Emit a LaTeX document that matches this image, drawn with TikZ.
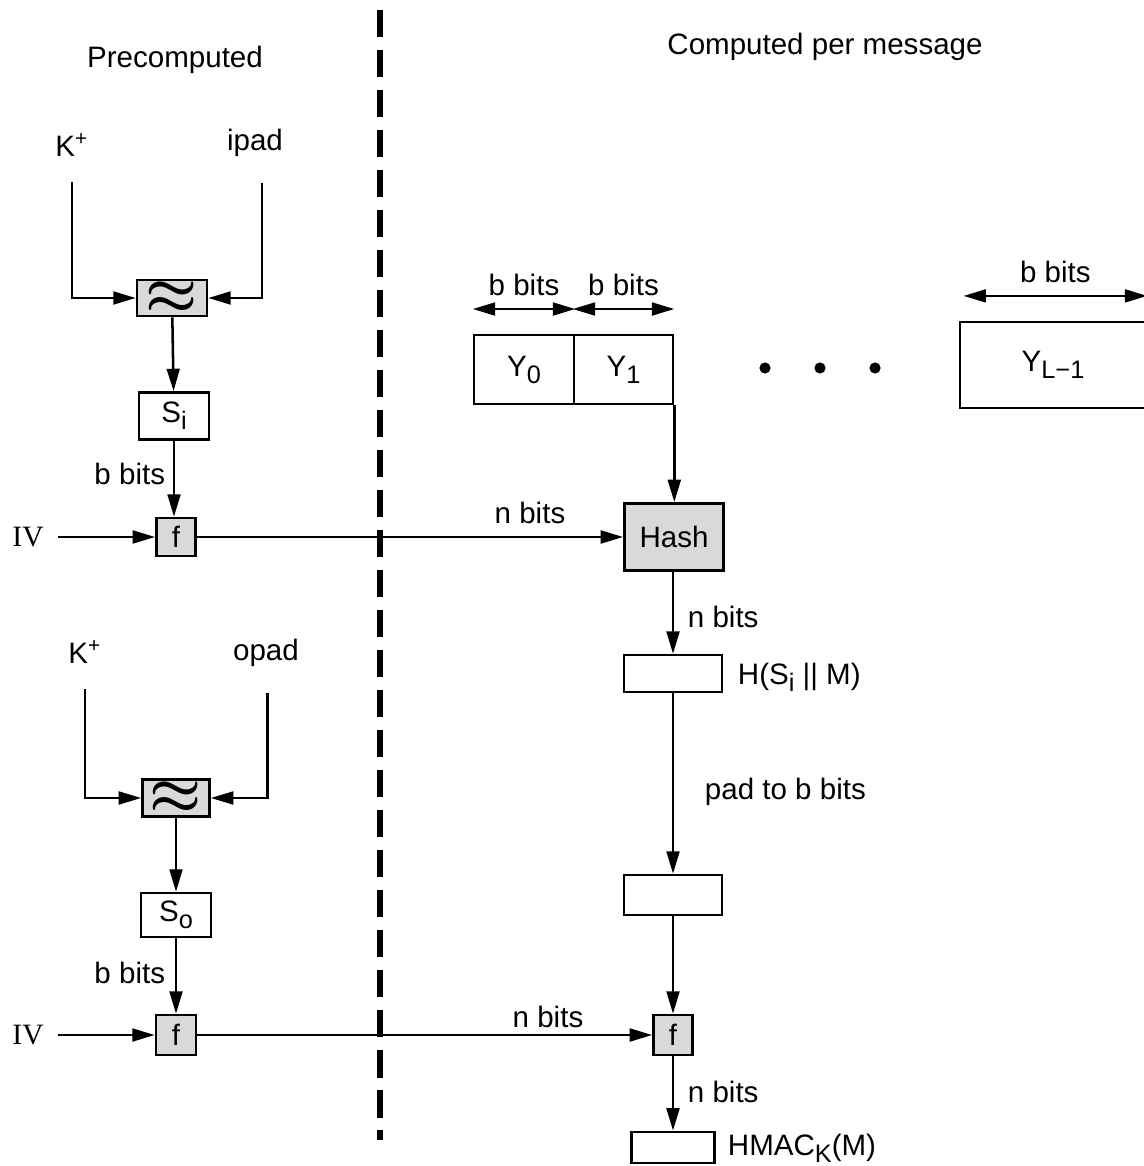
\documentclass[tikz,border=0pt]{standalone}
\usepackage{fontspec}
\setmainfont{Liberation Sans}
\newfontfamily\ivfont{Liberation Serif}
\usetikzlibrary{arrows.meta,positioning}

\newcommand{\xorsign}{{\fontsize{22}{22}\selectfont$\boldsymbol{\approx}$}}
\newcommand{\lowsub}[1]{\raisebox{-0.45ex}{\fontsize{9}{9}\selectfont #1}}
\usepackage{amsmath}

\begin{document}
\begin{tikzpicture}[
  x=0.0125cm, y=-0.0125cm,
  font=\fontsize{10.5}{12}\selectfont,
  >={Triangle[length=2.8mm,width=1.6mm]},
  box/.style={draw, line width=0.9pt, inner sep=0pt, fill=#1},
  box/.default=white,
  arr/.style={->, line width=0.9pt},
  darr/.style={<->, line width=0.9pt},
  divider/.style={line width=1.8pt, dash pattern=on 3.4mm off 1.6mm},
  dot/.style={circle, fill, inner sep=0pt, minimum size=0.14cm},
]
\definecolor{boxgray}{HTML}{D9D9D9}
\path[use as bounding box, fill=white] (0,0) rectangle (1143,1166);

\node (pre) at (175,60) {Precomputed};
\node (cpm) at (825,47) {Computed per message};
\draw[divider] (380,10) -- (380,1140);

% inner key
\node (kp1) at (72,145) {K\textsuperscript{+}};
\node (ipad) at (255,143) {ipad};
\node[box=boxgray, minimum width=0.875cm, minimum height=0.45cm] (xor1) at (172,298) {\xorsign};
\node[box, minimum width=0.875cm, minimum height=0.59cm] (si) at (174,416) {S\lowsub{i}};
\node[box=boxgray, minimum width=0.49cm, minimum height=0.475cm] (fa) at (176,537) {f};
\node (iva) at (28,537) {\ivfont IV};
\node[anchor=east] (ba) at (175,474) {b bits};

\draw[arr] ([yshift=-0.2cm]kp1.south) |- (xor1.west);
\draw[arr] ([xshift=0.09cm,yshift=-0.2cm]ipad.south) |- (xor1.east);
\draw[arr] (xor1) -- (si);
\draw[arr] (si.south) -- (si.south |- fa.north);
\draw[arr, shorten <=0.05cm] (iva) -- (fa);

% message blocks
\node[box, minimum width=1.25cm, minimum height=0.86cm] (y0) at (524,369.5) {Y\lowsub{0}};
\node[box, minimum width=1.2375cm, minimum height=0.86cm] (y1) at (623.5,369.5) {Y\lowsub{1}};
\node[dot] (d1) at (765,368) {};
\node[dot] (d2) at (820,368) {};
\node[dot] (d3) at (875,368) {};
\node[box, minimum width=2.325cm, minimum height=1.075cm] (yl) at (1053,365) {Y\lowsub{L−1}};

\draw[darr] ([yshift=0.31cm]y0.north west) -- ([yshift=0.31cm]y0.north east) node[midway, above=1pt] {b bits};
\draw[darr] ([yshift=0.31cm]y1.north west) -- ([yshift=0.31cm]y1.north east) node[midway, above=1pt] {b bits};
\draw[darr] ([xshift=0.06cm,yshift=0.31cm]yl.north west) -- ([yshift=0.31cm]yl.north east) node[midway, above=1pt] {b bits};

% inner hash
\node[box=boxgray, minimum width=1.24cm, minimum height=0.84cm] (hash) at (674,537) {Hash};
\node[box, minimum width=1.225cm, minimum height=0.46cm] (hbox) at (673,673.5) {};
\node[box, minimum width=1.225cm, minimum height=0.5cm] (pbox) at (673,895) {};

\draw[arr] (y1.south east) -- (y1.south east |- hash.north);
\draw[arr] (fa) -- (hash);
\node (na) at (530,513) {n bits};
\draw[arr] (hash.south -| hbox) -- (hbox);
\node[anchor=west] (nb) at (678,617) {n bits};
\node[anchor=west] (hlab) at (728,677) {H(S\lowsub{i} || M)};
\draw[arr] (hbox) -- (pbox);
\node[anchor=west] (padlab) at (695,792) {pad to b bits};

% outer key
\node (kp2) at (85,652) {K\textsuperscript{+}};
\node (opad) at (266,653) {opad};
\node[box=boxgray, minimum width=0.84cm, minimum height=0.46cm] (xor2) at (176,798) {\xorsign};
\node[box, minimum width=0.875cm, minimum height=0.55cm] (so) at (176,915) {S\lowsub{o}};
\node[box=boxgray, minimum width=0.5cm, minimum height=0.5cm] (fc) at (176,1035) {f};
\node (ivb) at (28,1035) {\ivfont IV};
\node[anchor=east] (bb) at (175,973) {b bits};

\draw[arr] ([yshift=-0.2cm]kp2.south) |- (xor2.west);
\draw[arr] ([xshift=0.02cm,yshift=-0.2cm]opad.south) |- (xor2.east);
\draw[arr] (xor2) -- (so);
\draw[arr] (so) -- (fc);
\draw[arr, shorten <=0.05cm] (ivb) -- (fc);

% outer hash
\node[box=boxgray, minimum width=0.49cm, minimum height=0.5cm] (fb) at (673,1035) {f};
\node[box, minimum width=1.04cm, minimum height=0.39cm] (mac) at (673,1147.5) {};
\draw[arr] (pbox) -- (fb);
\draw[arr] (fc) -- (fb);
\node (nc) at (548,1017) {n bits};
\draw[arr] (fb) -- (mac);
\node[anchor=west] (nd) at (678,1092) {n bits};
\node[anchor=west] (maclab) at (718,1148) {HMAC\lowsub{K}(M)};
\end{tikzpicture}
\end{document}
